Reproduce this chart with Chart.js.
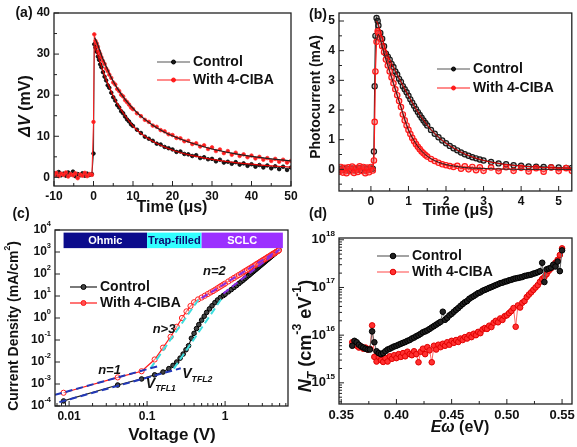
<!DOCTYPE html>
<html>
<head>
<meta charset="utf-8">
<script src="https://cdn.jsdelivr.net/npm/chart.js@4.4.1/dist/chart.umd.min.js"></script>
<style>
body { margin: 0; background: #fff; }
#wrap { position: relative; width: 577px; height: 447px; }
canvas { position: absolute; left: 0; top: 0; }
</style>
</head>
<body>
<div id="wrap">
<canvas id="ca" width="577" height="447"></canvas>
<canvas id="cb" width="577" height="447"></canvas>
<canvas id="cc" width="577" height="447"></canvas>
<canvas id="cd" width="577" height="447"></canvas>
</div>
<script>
// (a) transient photovoltage, time in us, dV in mV
var aT = [-10,-9.4,-8.8,-8.2,-7.6,-7,-6.4,-5.8,-5.2,-4.6,-4,-3.4,-2.8,-2.2,-1.6,-1,-0.4,
  0,0.2,0.5,0.8,1.1,1.4,1.7,2,2.4,2.8,3.2,3.6,4,
  4.5,5,5.5,6,6.5,7,7.5,8,8.5,9,9.5,10,
  11,12,13,14,15,16,17,18,19,20,21,22,23,24,25,26,27,28,29,30,
  31,32,33,34,35,36,37,38,39,40,41,42,43,44,45,46,47,48,49,50];
var aCtrl = [1.0,0.6,1.3,0.5,0.9,0.4,1.2,0.7,1.4,0.3,0.8,0.5,1.0,0.4,0.9,0.6,0.8,
  5.8,32.4,31.6,30.6,29.4,28.6,27.5,26.8,25.6,24.5,23.6,22.4,21.8,
  20.6,19.5,18.7,17.6,17.0,16.1,15.6,14.8,14.1,13.6,12.9,12.5,
  11.6,10.8,9.9,9.4,8.9,8.2,8.0,7.4,7.1,6.8,6.2,6.3,5.7,5.6,5.2,5.4,4.7,4.9,4.4,4.5,
  3.9,4.3,3.6,3.8,3.3,3.7,3.1,3.4,2.8,3.2,2.6,3.0,2.4,2.9,2.2,2.7,2.0,2.6,1.8,2.4];
var aCiba = [0.5,1.1,0.3,0.9,0.6,1.2,0.2,0.8,0.5,1.0,-0.2,0.7,0.4,1.1,0.3,0.8,0.6,
  13.5,34.8,33.2,32.6,31.8,30.7,30.0,29.2,28.3,27.6,26.5,25.9,25.0,
  24.2,23.1,22.6,21.5,21.0,20.1,19.7,18.8,18.3,17.7,17.0,16.6,
  15.6,14.9,14.0,13.5,12.6,12.3,11.5,11.2,10.5,10.3,9.6,9.5,8.8,8.9,8.1,8.3,7.5,7.8,6.9,7.3,
  6.4,6.8,5.9,6.4,5.5,6.0,5.2,5.6,4.9,5.3,4.6,5.0,4.3,4.7,4.0,4.5,3.8,4.3,3.6,4.0];
var aFitT = [0.3,1,2,3,4,5,6,8,10,12,15,18,21,25,30,35,40,45,50];
var aCtrlFit = [32,30,27,24.3,22,19.8,18,15,12.5,10.7,8.8,7.4,6.3,5.3,4.4,3.7,3.2,2.8,2.5];
var aCibaFit = [34,32.5,29.8,27.5,25.3,23.4,21.7,19,16.8,14.9,12.7,11,9.7,8.3,6.9,5.9,5.1,4.5,4.0];

// (b) transient photocurrent, time in us, current in mA
var bT = [-0.85,-0.8,-0.75,-0.7,-0.65,-0.6,-0.55,-0.5,-0.45,-0.4,-0.35,-0.3,-0.25,-0.2,-0.15,-0.1,-0.05,0,0.05,
  0.08,0.1,0.12,0.15,0.18,0.2,
  0.25,0.3,0.35,0.4,0.45,0.5,0.55,0.6,0.65,0.7,0.75,0.8,0.85,0.9,0.95,1.0,1.05,1.1,1.15,1.2,1.25,1.3,1.35,1.4,1.45,1.5,
  1.6,1.7,1.8,1.9,2.0,2.1,2.2,2.3,2.4,2.5,2.6,2.7,2.8,2.9,3.0,
  3.2,3.4,3.6,3.8,4.0,4.2,4.4,4.6,4.8,5.0,5.2,5.35];
var bCtrl = [0.02,-0.03,0.04,-0.02,0.03,-0.04,0.01,0.03,-0.03,0.02,-0.01,0.04,-0.02,0.03,-0.04,0.02,-0.01,0.03,0.02,
  0.6,2.8,4.5,5.1,5.0,4.85,
  4.6,4.4,4.15,3.9,3.8,3.7,3.55,3.45,3.3,3.2,3.05,2.95,2.8,2.7,2.6,2.48,2.36,2.25,2.14,2.03,1.93,1.83,1.74,1.65,1.56,1.48,
  1.33,1.2,1.08,0.97,0.88,0.79,0.71,0.64,0.57,0.51,0.46,0.41,0.37,0.33,0.3,
  0.25,0.2,0.17,0.14,0.12,0.1,0.09,0.08,0.07,0.06,0.05,0.05];
var bCiba = [-0.08,0.08,-0.11,0.05,-0.13,0.07,-0.06,0.09,-0.12,0.04,-0.09,0.1,-0.05,0.08,-0.13,0.06,-0.1,0.08,-0.04,
  0.3,1.6,3.3,4.3,4.65,4.6,
  4.4,4.15,3.95,3.7,3.5,3.3,3.1,2.9,2.7,2.5,2.3,2.1,1.85,1.65,1.48,1.33,1.19,1.06,0.95,0.85,0.76,0.68,0.6,0.54,0.48,0.43,
  0.35,0.28,0.22,0.17,0.14,0.11,0.08,0.12,0.02,0.1,0.0,0.08,-0.03,0.07,-0.05,
  0.06,-0.06,0.07,-0.05,0.05,-0.07,0.04,-0.08,0.06,-0.06,0.04,-0.05];
var bFitT = [0.15,0.2,0.3,0.4,0.5,0.6,0.8,1.0,1.2,1.4,1.6,1.8,2.0,2.5,3.0,3.5,4.0,4.5,5.0,5.35];
var bCtrlFit = [5.0,4.85,4.45,4.0,3.72,3.45,2.95,2.48,2.04,1.66,1.34,1.09,0.88,0.52,0.3,0.18,0.11,0.07,0.05,0.04];
var bCibaFit = [4.35,4.55,4.15,3.7,3.3,2.9,2.1,1.33,0.86,0.55,0.36,0.24,0.16,0.06,0.03,0.01,0,0,0,0];

// (c) dark J-V, voltage in V, current density in mA/cm2
var cCtrlV = [0.0085,0.042,0.085,0.125,0.16,0.19,0.215,0.24,0.265,0.29,0.315,0.34,0.37,0.4,0.43,0.46,0.5,0.54,0.58,0.63,0.68,0.74,0.8,0.87,0.95,
  1.0,1.1,1.2,1.3,1.4,1.5,1.6,1.7,1.8,1.9,2.0,2.1,2.2,2.3,2.4,2.5,2.6,2.7,2.8,2.9,
  3.0,3.1,3.2,3.3,3.4,3.5,3.6,3.7,3.8,3.9,4.0,4.1,4.2,4.3,4.4,4.5,4.6,4.7,4.8,4.9];
var cCtrlJ = [1.7e-4,9e-4,1.7e-3,2.6e-3,3.5e-3,5e-3,7e-3,1.0e-2,1.5e-2,2.3e-2,3.6e-2,5.5e-2,0.12,0.2,0.33,0.5,0.8,1.2,1.8,2.6,3.6,5,6.6,8.5,10.5,
  12,15.5,19.5,24.5,30,36.5,44,52,62,73,85,98,113,129,147,166,187,209,234,260,
  287,317,349,383,418,456,497,539,584,631,680,733,787,844,903,968,1033,1100,1175,1250];
var cCibaV = [0.0085,0.042,0.085,0.125,0.16,0.2,0.24,0.28,0.32,0.36,0.4,0.45,0.5,0.55,0.6,0.65,0.7,0.75,0.8,0.85,0.9,0.95,
  1.0,1.1,1.2,1.3,1.4,1.5,1.6,1.7,1.8,1.9,2.0,2.1,2.2,2.3,2.4,2.5,2.6,2.7,2.8,2.9,
  3.0,3.1,3.2,3.3,3.4,3.5,3.6,3.7,3.8,3.9,4.0,4.1,4.2,4.3,4.4,4.5,4.6,4.7,4.8,4.9];
var cCibaJ = [4e-4,2e-3,3.8e-3,1.3e-2,4.5e-2,0.14,0.4,1.0,2.0,3.5,5.2,7.0,8.5,10.3,12.3,14.5,16.7,19.5,22.5,25.8,29.3,33,
  36.8,45.8,55.7,66.3,77.7,90,103,118,134,150,168,186,206,226,248,275,297,322,349,377,
  412,437,468,501,535,577,607,644,683,723,777,808,852,897,944,1007,1040,1090,1141,1195];
// fitted slopes (dashed)
var cN1CibaV = [0.0066,0.15], cN1CibaJ = [3.2e-4,7e-3];
var cN1CtrlV = [0.0075,0.27], cN1CtrlJ = [1.5e-4,5.2e-3];
var cTrapCibaV = [0.11,0.48], cTrapCibaJ = [5e-3,9];
var cTrapCtrlV = [0.22,0.95], cTrapCtrlJ = [5e-3,10];
var cSclcCibaV = [0.5,5], cSclcCibaJ = [8,1300];
var cSclcCtrlV = [0.95,4.8], cSclcCtrlJ = [13,1150];
// regime bands along the top
var cBandEdges = [0.0085,0.1,0.5,5.5];
var cBandNames = ['Ohmic','Trap-filled','SCLC'];
var cBandJ = [1.5e3,7.6e3];

// (d) trap density of states, energy in eV
var dE = [0.360,0.362,0.364,0.366,0.368,0.370,0.372,0.374,0.376,0.378,0.380,0.382,0.384,0.386,0.388,0.390,
  0.392,0.394,0.396,0.398,0.400,0.402,0.404,0.406,0.408,0.410,0.412,0.414,0.416,0.418,0.420,0.422,
  0.424,0.426,0.428,0.430,0.432,0.434,0.436,0.438,0.440,0.442,0.444,0.446,0.448,0.450,0.452,0.454,
  0.456,0.458,0.460,0.462,0.464,0.466,0.468,0.470,0.472,0.474,0.476,0.478,0.480,0.482,0.484,0.486,
  0.488,0.490,0.492,0.494,0.496,0.498,0.500,0.502,0.504,0.506,0.508,0.510,0.512,0.514,0.516,0.518,
  0.520,0.522,0.524,0.526,0.528,0.530,0.532,0.534,0.536,0.538,0.540,0.542,0.544,0.546,0.548,0.550];
var dCtrl = [6.0e15,7.6e15,7.1e15,6.3e15,5.8e15,5.5e15,5.2e15,5.0e15,5.0e15,1.2e16,7.1e15,4.6e15,4.2e15,4.0e15,4.2e15,4.6e15,
  5.0e15,5.2e15,5.5e15,5.8e15,6.0e15,6.3e15,6.6e15,6.9e15,7.2e15,7.6e15,7.9e15,8.5e15,8.9e15,9.5e15,1.0e16,1.07e16,
  1.15e16,1.2e16,1.26e16,1.35e16,1.45e16,1.55e16,1.66e16,1.78e16,1.9e16,3.1e16,2.1e16,2.3e16,2.6e16,2.8e16,3.1e16,3.4e16,
  3.7e16,4.1e16,4.5e16,4.9e16,5.2e16,5.8e16,6.2e16,6.6e16,7.1e16,7.6e16,7.9e16,8.5e16,8.9e16,9.3e16,9.8e16,1.02e17,
  1.07e17,1.12e17,1.17e17,1.23e17,1.26e17,1.32e17,1.35e17,1.41e17,1.45e17,1.51e17,1.55e17,1.58e17,1.62e17,1.66e17,1.74e17,1.78e17,
  1.82e17,1.86e17,1.95e17,2.0e17,2.09e17,2.19e17,3.3e17,1.3e17,2.4e17,2.5e17,2.6e17,3.0e17,2.75e17,3.5e17,2.2e17,6.0e17];
var dCiba = [7.1e15,6.3e15,6.0e15,5.5e15,5.8e15,5.2e15,5.5e15,5.0e15,5.2e15,1.6e16,3.5e15,2.8e15,3.5e15,3.0e15,2.75e15,3.3e15,
  2.8e15,3.6e15,3.2e15,3.8e15,3.3e15,4.0e15,3.5e15,4.2e15,3.6e15,4.5e15,4.0e15,3.8e15,4.6e15,4.0e15,2.7e15,4.5e15,
  5.2e15,4.0e15,5.6e15,4.8e15,2.7e15,6.0e15,5.0e15,6.3e15,5.6e15,6.6e15,6.0e15,7.1e15,6.3e15,7.6e15,6.9e15,7.9e15,
  7.2e15,8.5e15,7.9e15,9.1e15,8.5e15,1.0e16,9.1e15,1.07e16,1.0e16,1.17e16,1.1e16,1.32e16,1.41e16,1.35e16,1.58e16,1.48e16,
  1.82e16,2.0e16,1.86e16,2.24e16,2.09e16,2.5e16,2.6e16,2.9e16,3.2e16,3.7e16,1.5e16,4.2e16,3.8e16,4.8e16,5.2e16,6.3e16,
  7.1e16,7.9e16,8.9e16,1.0e17,1.12e17,1.32e17,1.51e17,1.66e17,1.9e17,2.24e17,2.5e17,2.8e17,3.3e17,3.8e17,4.8e17,6.6e17];

var FONT = '"Liberation Sans", Arial, Helvetica, sans-serif';
var RED = '#ff1a1a';
var BLACK = '#1a1a1a';
var CIBA = 'With 4-CIBA';

function pts(xs, ys) {
  return xs.map(function (x, i) { return {x: x, y: ys[i]}; });
}

// draw a run of text pieces; s.sc scales size, s.dy shifts (in em) for sub/superscripts
function rich(ctx, segs, x, y, align, size, rot) {
  ctx.save();
  ctx.translate(x, y);
  if (rot) ctx.rotate(rot);
  var fonts = segs.map(function (s) {
    return (s.it ? 'italic ' : '') + 'bold ' + (size * (s.sc || 1)) + 'px ' + FONT;
  });
  var w = 0;
  segs.forEach(function (s, i) { ctx.font = fonts[i]; w += ctx.measureText(s.t).width; });
  var cx = align === 'center' ? -w / 2 : (align === 'right' ? -w : 0);
  ctx.textAlign = 'left';
  ctx.textBaseline = 'middle';
  segs.forEach(function (s, i) {
    ctx.font = fonts[i];
    ctx.fillStyle = s.c || '#111';
    ctx.fillText(s.t, cx, (s.dy || 0) * size);
    cx += ctx.measureText(s.t).width;
  });
  ctx.restore();
}

function pow10(e) {
  return [{t: '10'}, {t: String(e), sc: 0.62, dy: -0.5}];
}
function plain(list) {
  return list.map(function (t) { return [{t: t}]; });
}

function deco(cfg) {
  return {
    id: 'deco',
    afterDatasetsDraw: function (chart) {
      var ctx = chart.ctx, ca = chart.chartArea;
      var sx = chart.scales.x, sy = chart.scales.y;
      ctx.save();
      if (cfg.bands) {
        var b = cfg.bands;
        var top = sy.getPixelForValue(b.j[1]), bot = sy.getPixelForValue(b.j[0]);
        for (var i = 0; i < b.names.length; i++) {
          var l = sx.getPixelForValue(b.edges[i]), r = sx.getPixelForValue(b.edges[i + 1]);
          ctx.fillStyle = b.fill[i];
          ctx.fillRect(l, top, r - l, bot - top);
          rich(ctx, [{t: b.names[i], c: b.ink[i]}], (l + r) / 2, (top + bot) / 2 + 0.5, 'center', 11);
        }
      }
      (cfg.notes || []).forEach(function (n) {
        rich(ctx, n.segs, sx.getPixelForValue(n.x), sy.getPixelForValue(n.y), 'center', n.size);
      });
      // frame and inward ticks
      ctx.strokeStyle = '#222';
      ctx.lineWidth = 1.3;
      ctx.strokeRect(ca.left, ca.top, ca.right - ca.left, ca.bottom - ca.top);
      ctx.lineWidth = 1;
      ctx.beginPath();
      function xt(v, len) { var p = sx.getPixelForValue(v); ctx.moveTo(p, ca.bottom); ctx.lineTo(p, ca.bottom - len); }
      function yt(v, len) { var p = sy.getPixelForValue(v); ctx.moveTo(ca.left, p); ctx.lineTo(ca.left + len, p); }
      cfg.xMajor.forEach(function (v) { xt(v, 5); });
      cfg.xMinor.forEach(function (v) { xt(v, 3); });
      cfg.yMajor.forEach(function (v) { yt(v, 5); });
      cfg.yMinor.forEach(function (v) { yt(v, 3); });
      ctx.stroke();
      cfg.xLabels.forEach(function (lab, i) {
        rich(ctx, lab, sx.getPixelForValue(cfg.xMajor[i]), ca.bottom + 4 + cfg.tick / 2 + 1, 'center', cfg.tick);
      });
      cfg.yLabels.forEach(function (lab, i) {
        rich(ctx, lab, ca.left - 4, sy.getPixelForValue(cfg.yMajor[i]), 'right', cfg.tick);
      });
      rich(ctx, cfg.xTitle, cfg.xTitleAt[0], cfg.xTitleAt[1], 'center', cfg.xTitleSize);
      rich(ctx, cfg.yTitle, cfg.yTitleAt[0], cfg.yTitleAt[1], 'center', cfg.yTitleSize, -Math.PI / 2);
      rich(ctx, [{t: cfg.panel}], cfg.panelAt[0], cfg.panelAt[1], 'center', 14);
      // legend
      var lg = cfg.legend;
      lg.items.forEach(function (it, i) {
        var y = lg.y + i * lg.gap;
        ctx.strokeStyle = it.line;
        ctx.lineWidth = 1.2;
        ctx.beginPath();
        ctx.moveTo(lg.x, y);
        ctx.lineTo(lg.x + lg.len, y);
        ctx.stroke();
        ctx.beginPath();
        ctx.arc(lg.x + lg.len / 2, y, it.r, 0, Math.PI * 2);
        ctx.fillStyle = it.fill;
        ctx.fill();
        ctx.strokeStyle = it.edge;
        ctx.lineWidth = 1;
        ctx.stroke();
        rich(ctx, [{t: it.label}], lg.x + lg.len + 3, y, 'left', 14);
      });
      ctx.restore();
    }
  };
}

function makeChart(id, area, xScale, yScale, datasets, cfg) {
  var xs = Object.assign({display: false}, xScale);
  var ys = Object.assign({display: false}, yScale);
  return new Chart(document.getElementById(id), {
    type: 'scatter',
    data: {datasets: datasets},
    options: {
      responsive: false,
      animation: false,
      devicePixelRatio: 1,
      layout: {padding: {left: area[0], top: area[1], right: 577 - area[2], bottom: 447 - area[3]}},
      scales: {x: xs, y: ys},
      plugins: {legend: {display: false}, tooltip: {enabled: false}}
    },
    plugins: [deco(cfg)]
  });
}

function line(data, color, width, order, extra) {
  return Object.assign({
    data: data, showLine: true, borderColor: color, backgroundColor: color,
    borderWidth: width, pointRadius: 0, order: order, tension: 0
  }, extra || {});
}

// ---------- (a)
makeChart('ca', [54, 13, 291, 186],
  {type: 'linear', min: -10, max: 50},
  {type: 'linear', min: -2.1, max: 40},
  [
    line(pts(aFitT, aCtrlFit), '#e00000', 1.2, 0, {tension: 0.3}),
    line(pts(aFitT, aCibaFit), '#222', 1.2, 1, {tension: 0.3}),
    line(pts(aT, aCiba), RED, 1, 2, {pointRadius: 1.8, pointBackgroundColor: RED, pointBorderColor: '#f33', pointBorderWidth: 0.8}),
    line(pts(aT, aCtrl), '#333', 1, 3, {pointRadius: 1.8, pointBackgroundColor: BLACK, pointBorderColor: '#000', pointBorderWidth: 0.8})
  ],
  {
    xMajor: [-10, 0, 10, 20, 30, 40, 50], xMinor: [-5, 5, 15, 25, 35, 45],
    xLabels: plain(['-10', '0', '10', '20', '30', '40', '50']),
    yMajor: [0, 10, 20, 30, 40], yMinor: [5, 15, 25, 35],
    yLabels: plain(['0', '10', '20', '30', '40']),
    tick: 12,
    xTitle: [{t: 'Time (μs)'}], xTitleAt: [172, 208], xTitleSize: 16,
    yTitle: [{t: 'Δ', it: true}, {t: 'V', it: true}, {t: ' (mV)'}], yTitleAt: [26, 106], yTitleSize: 16,
    panel: '(a)', panelAt: [24, 13],
    legend: {x: 157, y: 62, gap: 18, len: 33, items: [
      {label: 'Control', line: '#555', fill: BLACK, edge: '#000', r: 2},
      {label: CIBA, line: RED, fill: RED, edge: RED, r: 2}
    ]}
  });

// ---------- (b)
makeChart('cb', [339, 13, 576, 191],
  {type: 'linear', min: -0.85, max: 5.35},
  {type: 'linear', min: -0.73, max: 5.27},
  [
    line(pts(bFitT, bCtrlFit), '#e00000', 1, 0, {tension: 0.3}),
    line(pts(bFitT, bCibaFit), '#222', 1, 1, {tension: 0.3}),
    line(pts(bT, bCiba), RED, 1.2, 2, {pointRadius: 2.7, pointBackgroundColor: 'rgba(255,80,80,0.35)', pointBorderColor: RED, pointBorderWidth: 1.2}),
    line(pts(bT, bCtrl), '#222', 1.2, 3, {pointRadius: 2.6, pointBackgroundColor: 'rgba(90,90,90,0.35)', pointBorderColor: BLACK, pointBorderWidth: 1.2})
  ],
  {
    xMajor: [0, 1, 2, 3, 4, 5], xMinor: [-0.5, 0.5, 1.5, 2.5, 3.5, 4.5],
    xLabels: plain(['0', '1', '2', '3', '4', '5']),
    yMajor: [0, 1, 2, 3, 4, 5], yMinor: [-0.5, 0.5, 1.5, 2.5, 3.5, 4.5],
    yLabels: plain(['0', '1', '2', '3', '4', '5']),
    tick: 12,
    xTitle: [{t: 'Time (μs)'}], xTitleAt: [458, 211], xTitleSize: 16,
    yTitle: [{t: 'Photocurrent (mA)'}], yTitleAt: [316, 97], yTitleSize: 14,
    panel: '(b)', panelAt: [318, 15],
    legend: {x: 437, y: 69, gap: 19, len: 33, items: [
      {label: 'Control', line: '#555', fill: BLACK, edge: '#000', r: 2},
      {label: CIBA, line: RED, fill: RED, edge: RED, r: 2}
    ]}
  });

// ---------- (c)
var dash = function (xs, ys, color, order) {
  return line(pts(xs, ys), color, 2, order, {borderDash: [7, 4]});
};
makeChart('cc', [55, 230, 288, 406],
  {type: 'logarithmic', min: 0.0066, max: 6.4},
  {type: 'logarithmic', min: 1e-4, max: 1e4},
  [
    dash(cN1CibaV, cN1CibaJ, '#2238b8', 0),
    dash(cN1CtrlV, cN1CtrlJ, '#2238b8', 0),
    dash(cTrapCibaV, cTrapCibaJ, '#3ddede', 0),
    dash(cTrapCtrlV, cTrapCtrlJ, '#3ddede', 0),
    dash(cSclcCibaV, cSclcCibaJ, '#8a2be2', 0),
    dash(cSclcCtrlV, cSclcCtrlJ, '#8a2be2', 0),
    line(pts(cCibaV, cCibaJ), RED, 1.2, 2, {pointRadius: 2.6, pointBackgroundColor: 'rgba(255,255,255,0.4)', pointBorderColor: RED, pointBorderWidth: 1}),
    line(pts(cCtrlV, cCtrlJ), '#222', 1.2, 3, {pointRadius: 2.3, pointBackgroundColor: '#444', pointBorderColor: '#000', pointBorderWidth: 1})
  ],
  {
    bands: {edges: cBandEdges, names: cBandNames, j: cBandJ,
      fill: ['#0c0c8c', '#33ffff', '#9b30ff'], ink: ['#ffffff', '#0c0c6e', '#ffffff']},
    notes: [
      {x: 0.033, y: 4.3e-3, size: 13, segs: [{t: 'n', it: true}, {t: '=1', it: true}]},
      {x: 0.165, y: 0.3, size: 13, segs: [{t: 'n', it: true}, {t: '>3', it: true}]},
      {x: 0.73, y: 129, size: 13, segs: [{t: 'n', it: true}, {t: '=2', it: true}]},
      {x: 0.15, y: 9.8e-4, size: 14, segs: [{t: 'V', it: true}, {t: 'TFL1', it: true, sc: 0.62, dy: 0.35}]},
      {x: 0.44, y: 2.75e-3, size: 14, segs: [{t: 'V', it: true}, {t: 'TFL2', it: true, sc: 0.62, dy: 0.35}]}
    ],
    xMajor: [0.01, 0.1, 1],
    xMinor: [0.007, 0.008, 0.009, 0.02, 0.03, 0.04, 0.05, 0.06, 0.07, 0.08, 0.09,
      0.2, 0.3, 0.4, 0.5, 0.6, 0.7, 0.8, 0.9, 2, 3, 4, 5, 6],
    xLabels: plain(['0.01', '0.1', '1']),
    yMajor: [1e-4, 1e-3, 1e-2, 1e-1, 1, 10, 100, 1e3, 1e4],
    yMinor: [],
    yLabels: [pow10(-4), pow10(-3), pow10(-2), pow10(-1), pow10(0), pow10(1), pow10(2), pow10(3), pow10(4)],
    tick: 12,
    xTitle: [{t: 'Voltage (V)'}], xTitleAt: [172, 435], xTitleSize: 17,
    yTitle: [{t: 'Current Density (mA/cm'}, {t: '2', sc: 0.62, dy: -0.45}, {t: ')'}], yTitleAt: [14, 326], yTitleSize: 14,
    panel: '(c)', panelAt: [21, 214],
    legend: {x: 70, y: 287, gap: 16, len: 27, items: [
      {label: 'Control', line: '#222', fill: '#444', edge: '#000', r: 2.5},
      {label: CIBA, line: RED, fill: '#ff5050', edge: RED, r: 2.5}
    ]}
  });

// ---------- (d)
var dMinor = [4e14, 5e14, 6e14, 7e14, 8e14, 9e14,
  2e15, 3e15, 4e15, 5e15, 6e15, 7e15, 8e15, 9e15,
  2e16, 3e16, 4e16, 5e16, 6e16, 7e16, 8e16, 9e16,
  2e17, 3e17, 4e17, 5e17, 6e17, 7e17, 8e17, 9e17];
makeChart('cd', [339, 238, 575, 404],
  {type: 'linear', min: 0.348, max: 0.559},
  {type: 'logarithmic', min: 3.6e14, max: 1.09e18},
  [
    line(pts(dE, dCtrl), '#666', 1, 0, {pointRadius: 2.8, pointBackgroundColor: '#222', pointBorderColor: '#000', pointBorderWidth: 1}),
    line(pts(dE, dCiba), '#ff6666', 1, 1, {pointRadius: 2.8, pointBackgroundColor: '#ff3030', pointBorderColor: '#e00000', pointBorderWidth: 1})
  ],
  {
    xMajor: [0.35, 0.4, 0.45, 0.5, 0.55], xMinor: [0.375, 0.425, 0.475, 0.525],
    xLabels: plain(['0.35', '0.40', '0.45', '0.50', '0.55']),
    yMajor: [1e15, 1e16, 1e17, 1e18], yMinor: dMinor,
    yLabels: [pow10(15), pow10(16), pow10(17), pow10(18)],
    tick: 13,
    xTitle: [{t: 'E', it: true}, {t: 'ω', it: true}, {t: ' (eV)'}], xTitleAt: [460, 428], xTitleSize: 16,
    yTitle: [{t: 'N', it: true}, {t: 'T', it: true, sc: 0.68, dy: 0.35}, {t: ' (cm'}, {t: '-3', sc: 0.68, dy: -0.45},
      {t: ' eV'}, {t: '-1', sc: 0.68, dy: -0.45}, {t: ')'}], yTitleAt: [306, 336], yTitleSize: 18,
    panel: '(d)', panelAt: [318, 214],
    legend: {x: 377, y: 256, gap: 16, len: 32, items: [
      {label: 'Control', line: '#666', fill: '#222', edge: '#000', r: 2.8},
      {label: CIBA, line: '#ff6666', fill: '#ff3030', edge: '#e00000', r: 2.8}
    ]}
  });
</script>
</body>
</html>
